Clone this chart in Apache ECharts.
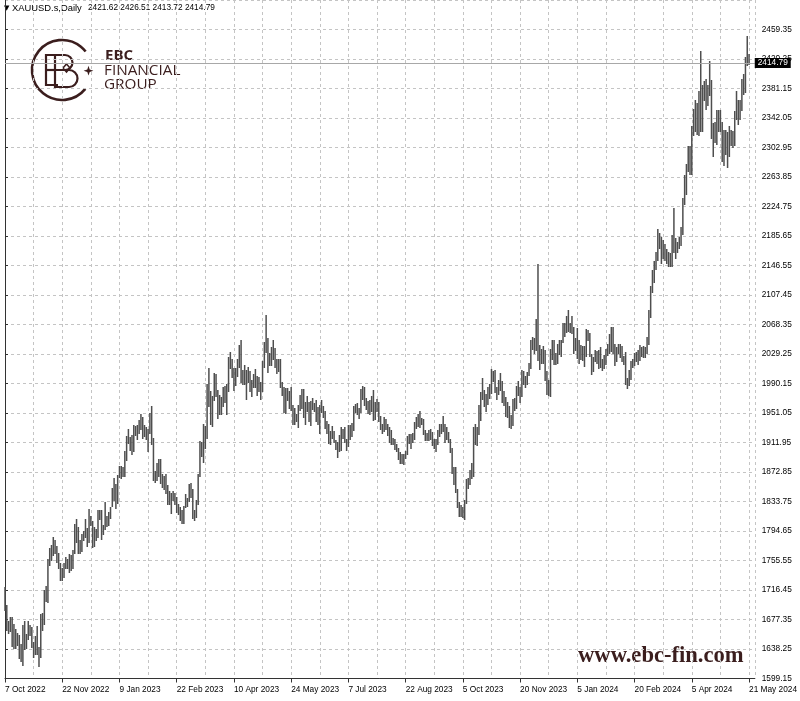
<!DOCTYPE html>
<html><head><meta charset="utf-8">
<script src="https://cdn.jsdelivr.net/npm/echarts@6/dist/echarts.min.js"></script>
<style>html,body{margin:0;padding:0;background:#fff}#chart{width:800px;height:701px}</style>
</head><body><div id="chart"></div>
<script>
// ---- data ----
const symbolTitle = 'XAUUSD.s,Daily';
const lastBarOHLC = [2421.62, 2426.51, 2413.72, 2414.79];
const currentPrice = 2414.79;
const xTickLabels = ['7 Oct 2022','22 Nov 2022','9 Jan 2023','22 Feb 2023','10 Apr 2023','24 May 2023','7 Jul 2023','22 Aug 2023','5 Oct 2023','20 Nov 2023','5 Jan 2024','20 Feb 2024','5 Apr 2024','21 May 2024'];
const barsPerLabel = 32;
const yTickBase = 1599.15;
const yTickStep = 39.1;
const yTickCount = 23;
const barHigh = [
1720,1697,1675,1680,1680,1672,1665,1660,1657,1645,
1670,1675,1658,1675,1670,1668,1648,1656,1669,1641,
1684,1686,1716,1722,1757,1772,1776,1786,1783,1775,
1766,1752,1746,1752,1760,1757,1764,1763,1769,1804,
1810,1800,1782,1790,1795,1810,1799,1824,1814,1808,
1800,1797,1822,1823,1823,1802,1833,1814,1820,1826,
1851,1865,1857,1869,1881,1881,1880,1901,1921,1930,
1919,1922,1935,1934,1935,1942,1949,1946,1935,1932,
1930,1951,1960,1918,1874,1885,1890,1890,1870,1868,
1870,1856,1847,1845,1848,1845,1839,1830,1827,1822,
1828,1843,1838,1857,1858,1850,1822,1836,1870,1914,
1912,1937,1934,1989,2010,1980,1973,2004,2003,1981,
1975,1972,1986,1987,1990,2025,2032,2022,2010,2010,
2023,2041,2048,2008,2014,2008,2012,2007,1995,2003,
2009,2000,1999,1992,2020,2045,2081,2050,2030,2038,
2048,2037,2022,2023,2022,1992,1986,1984,1984,1980,
1985,1962,1957,1950,1962,1975,1983,1983,1965,1973,
1966,1967,1971,1964,1968,1959,1962,1968,1960,1953,
1940,1936,1927,1934,1927,1915,1913,1922,1933,1930,
1932,1917,1935,1935,1938,1960,1963,1964,1957,1983,
1987,1985,1971,1967,1968,1974,1982,1965,1969,1965,
1947,1937,1946,1943,1937,1933,1929,1918,1917,1910,
1904,1899,1896,1897,1900,1920,1923,1923,1925,1939,
1946,1949,1953,1944,1943,1929,1925,1929,1930,1926,
1916,1916,1928,1937,1937,1947,1936,1932,1926,1917,
1904,1880,1879,1850,1833,1829,1826,1836,1864,1865,
1876,1885,1933,1937,1933,1962,1979,1997,1981,1976,
1985,1990,2009,2007,2008,1986,1995,2004,1993,1980,
1972,1965,1960,1948,1970,1971,1987,1993,1986,2008,
2007,2000,2005,2017,2048,2052,2050,2075,2148,2041,
2036,2040,2035,2007,1995,2036,2047,2048,2031,2043,
2047,2048,2070,2070,2079,2088,2070,2079,2065,2050,
2064,2047,2041,2040,2040,2062,2061,2057,2029,2025,
2035,2033,2034,2038,2023,2028,2036,2043,2056,2065,
2065,2042,2039,2042,2043,2040,2027,2032,1997,2008,
2020,2022,2031,2032,2035,2041,2039,2040,2038,2052,
2088,2119,2141,2152,2164,2195,2189,2184,2180,2175,
2168,2164,2163,2187,2223,2183,2177,2184,2197,2236,
2266,2281,2305,2305,2331,2354,2365,2362,2378,2431,
2385,2391,2393,2385,2417,2392,2335,2336,2353,2352,
2353,2336,2326,2326,2323,2331,2326,2324,2351,2378,
2366,2365,2393,2400,2422,2450,2426.51
];
const barLow = [
1690,1664,1659,1662,1642,1640,1640,1643,1626,1622,
1617,1638,1639,1651,1657,1641,1627,1631,1631,1616,
1628,1664,1672,1702,1701,1750,1756,1763,1765,1753,
1746,1730,1730,1733,1746,1745,1740,1743,1746,1766,
1780,1765,1765,1768,1782,1786,1775,1780,1802,1774,
1775,1782,1786,1810,1784,1790,1797,1801,1803,1812,
1828,1835,1825,1832,1866,1865,1868,1868,1888,1911,
1902,1896,1900,1922,1917,1925,1930,1918,1921,1916,
1900,1925,1910,1862,1860,1862,1868,1858,1853,1850,
1845,1830,1830,1818,1836,1830,1820,1817,1809,1805,
1805,1826,1828,1834,1840,1812,1809,1813,1830,1867,
1894,1886,1905,1918,1960,1936,1934,1968,1974,1944,
1950,1950,1960,1966,1950,1980,2010,1999,1982,1988,
2000,2012,1992,1990,1990,1970,1992,1980,1974,1985,
1986,1975,1980,1970,1980,2012,2032,2005,2015,2014,
2023,2012,2004,2006,1985,1975,1952,1951,1968,1957,
1955,1937,1936,1940,1932,1955,1957,1945,1937,1953,
1940,1935,1956,1954,1940,1936,1925,1952,1946,1931,
1925,1911,1910,1918,1912,1903,1893,1900,1902,1918,
1912,1902,1907,1917,1921,1929,1952,1950,1944,1952,
1970,1962,1956,1951,1950,1953,1942,1943,1953,1940,
1930,1925,1927,1930,1922,1913,1910,1910,1903,1900,
1890,1885,1885,1884,1891,1896,1911,1904,1912,1917,
1931,1934,1932,1936,1923,1915,1915,1915,1917,1909,
1905,1901,1910,1921,1925,1927,1913,1916,1912,1899,
1872,1857,1846,1826,1815,1815,1813,1810,1832,1851,
1857,1865,1868,1910,1908,1923,1941,1970,1960,1953,
1963,1971,1977,1993,1979,1970,1976,1982,1965,1962,
1947,1945,1932,1931,1935,1955,1957,1975,1965,1974,
1989,1986,1990,2001,2011,2036,2031,2034,2021,2009,
2017,2017,1995,1976,1975,1973,2022,2016,2016,2017,
2029,2027,2045,2053,2058,2060,2058,2057,2030,2035,
2024,2017,2022,2021,2013,2027,2047,2027,2002,2007,
2020,2017,2010,2012,2008,2010,2016,2028,2030,2033,
2030,2015,2020,2031,2025,2020,2016,1990,1984,1988,
1996,2012,2015,2020,2016,2021,2026,2025,2025,2031,
2042,2078,2111,2124,2142,2154,2170,2150,2156,2154,
2150,2146,2146,2146,2164,2156,2164,2170,2173,2188,
2228,2241,2272,2268,2267,2319,2324,2320,2319,2325,
2325,2365,2354,2359,2372,2315,2291,2310,2308,2324,
2325,2285,2280,2294,2277,2292,2306,2303,2306,2341,
2334,2340,2352,2373,2376,2412,2413.72
];

// ---- chart ----
const chart = echarts.init(document.getElementById('chart'), null, {renderer:'canvas'});
const barData = barHigh.map((h, i) => [i, h - yTickBase, barLow[i] - yTickBase]);
const xMax = 419.2;
const yMax = 899;
const gridCol = '#c4c4c4';
const ink = '#3b1e1e';
const axisFont = {fontFamily:'Liberation Sans, Arial, sans-serif', fontSize:8.3, color:'#000'};
const D = Math.PI / 180;

const option = {
  animation:false,
  backgroundColor:'#fff',
  grid:{left:5, right:43.5, top:0, bottom:22.5, containLabel:false},
  xAxis:[
    {type:'value', min:0, max:xMax, interval:barsPerLabel/2,
     axisLine:{show:true, lineStyle:{color:'#333', width:1}},
     axisTick:{show:false}, axisLabel:{show:false},
     splitLine:{show:true, lineStyle:{color:gridCol, type:[3,3], width:1}}},
    {type:'value', min:0, max:xMax, interval:barsPerLabel, position:'bottom',
     axisLine:{show:false},
     axisTick:{show:true, length:4, lineStyle:{color:'#333'}},
     splitLine:{show:false},
     axisLabel:Object.assign({show:true, align:'left', margin:7, showMaxLabel:false, hideOverlap:false,
       formatter:v => { const k = Math.round(v / barsPerLabel); return (Math.abs(v - k*barsPerLabel) < 0.01 && xTickLabels[k]) ? xTickLabels[k] : ''; }}, axisFont)}
  ],
  yAxis:[
    {type:'value', position:'right', min:0, max:yMax, interval:yTickStep,
     axisLine:{show:true, lineStyle:{color:'#333'}},
     axisTick:{show:true, length:3, lineStyle:{color:'#333'}},
     splitLine:{show:true, lineStyle:{color:gridCol, type:[3,3], width:1}},
     axisLabel:Object.assign({margin:7, showMaxLabel:false,
       formatter:v => { const k = Math.round(v / yTickStep); if (Math.abs(v - k*yTickStep) > 0.01 || k >= yTickCount) return ''; return (yTickBase + k*yTickStep).toFixed(2); }}, axisFont)},
    {type:'value', position:'left', min:0, max:yMax,
     axisLine:{show:true, lineStyle:{color:'#333'}},
     axisTick:{show:false}, axisLabel:{show:false}, splitLine:{show:false}}
  ],
  series:[{
    type:'custom', xAxisIndex:0, yAxisIndex:0, data:barData, clip:false,
    encode:{x:0, y:[1,2]},
    renderItem:function(params, api){
      const x = api.value(0);
      const p1 = api.coord([x, api.value(1)]);
      const p2 = api.coord([x, api.value(2)]);
      return {type:'line', shape:{x1:p1[0], y1:Math.round(p1[1]), x2:p1[0], y2:Math.round(p2[1])+1},
        style:{stroke:'#4e4e4e', lineWidth:1.5}};
    },
    markLine:{silent:true, symbol:'none', animation:false,
      lineStyle:{color:'#a8a8a8', type:'solid', width:1},
      label:{show:true, position:'end', distance:0, formatter:currentPrice.toFixed(2),
        backgroundColor:'#000', color:'#fff', padding:[1,3,1,3],
        fontFamily:'Liberation Sans, Arial, sans-serif', fontSize:8.3},
      data:[{yAxis: currentPrice - yTickBase}]}
  }],
  graphic:[
    {type:'text', x:4, y:5, style:{text:'▼', font:'7px DejaVu Sans', fill:'#000'}},
    {type:'text', x:12, y:4, style:{text:symbolTitle, font:'9.4px Liberation Sans', fill:'#000'}},
    {type:'text', x:88, y:4, style:{text:lastBarOHLC.map(v=>v.toFixed(2)).join(' '), font:'8.3px Liberation Sans', fill:'#000'}},
    // logo
    {type:'arc', shape:{cx:62, cy:70, r:30, startAngle:39*D, endAngle:322*D, clockwise:true},
      style:{stroke:ink, lineWidth:2.6, fill:null}},
    {type:'polygon', shape:{points:[[88.5,65.8],[89.7,69.5],[93.4,70.7],[89.7,71.9],[88.5,75.6],[87.3,71.9],[83.6,70.7],[87.3,69.5]]}, style:{fill:ink}},
    {type:'polyline', shape:{points:[[58,55],[46,55],[46,85],[58,85]]}, style:{stroke:ink, lineWidth:2.2, fill:null}},
    {type:'line', shape:{x1:46, y1:70, x2:55, y2:70}, style:{stroke:ink, lineWidth:2.2}},
    {type:'polyline', shape:{points:[[65,70],[55,70],[55,55],[65,55]]}, style:{stroke:ink, lineWidth:2.2, fill:null}},
    {type:'arc', shape:{cx:65, cy:62.5, r:7.5, startAngle:-90*D, endAngle:90*D, clockwise:true}, style:{stroke:ink, lineWidth:2.2, fill:null}},
    {type:'polyline', shape:{points:[[69,70],[55,70],[55,87],[69,87]]}, style:{stroke:ink, lineWidth:2.2, fill:null}},
    {type:'arc', shape:{cx:69, cy:78.5, r:8.5, startAngle:-90*D, endAngle:90*D, clockwise:true}, style:{stroke:ink, lineWidth:2.2, fill:null}},
    {type:'polygon', shape:{points:[[66.5,64],[70,68],[66.5,72],[63,68]]}, style:{stroke:ink, lineWidth:1.5, fill:null}},
    {type:'text', x:105, y:48, style:{text:'EBC', font:'bold 15px Open Sans', fill:ink}},
    {type:'text', x:104, y:63, style:{text:'FINANCIAL', font:'15.3px Open Sans', fill:ink}},
    {type:'text', x:104, y:77.5, style:{text:'GROUP', font:'15.3px Open Sans', fill:ink}},
    // watermark
    {type:'text', x:578, y:645, style:{text:'www.ebc-fin.com', font:'bold 22.6px Liberation Serif', fill:ink}}
  ]
};
chart.setOption(option);
</script></body></html>
